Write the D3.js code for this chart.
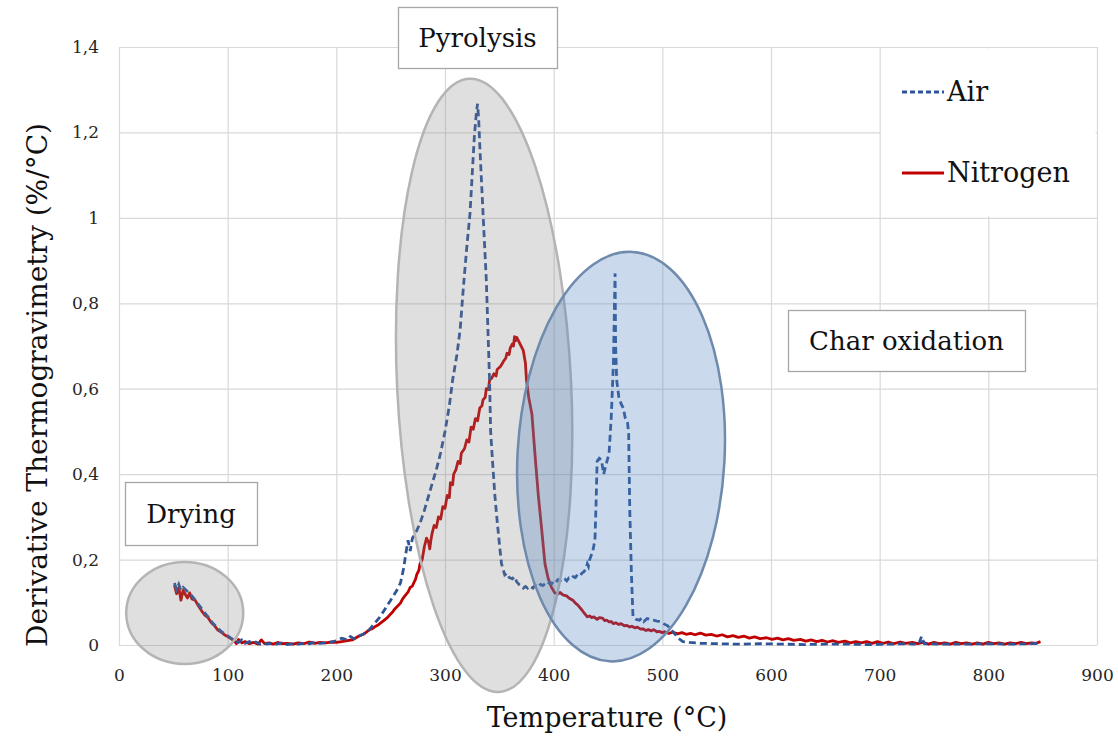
<!DOCTYPE html>
<html><head><meta charset="utf-8">
<script src="https://cdn.jsdelivr.net/npm/d3@7"></script>
<style>html,body{margin:0;padding:0;background:#fff;}svg{display:block;}</style>
</head><body>
<svg id="c" width="1118" height="737"></svg>
<script>
const xTicks = [0,100,200,300,400,500,600,700,800,900];
const yTicks = [0,0.2,0.4,0.6,0.8,1,1.2,1.4];
const yTickLabels = ["0","0,2","0,4","0,6","0,8","1","1,2","1,4"];
const seriesNames = ["Air","Nitrogen"];
const annotations = ["Drying","Pyrolysis","Char oxidation"];

// [temperature °C, DTG %/°C]
const airPoints = [[51,0.145],[53,0.13],[55,0.142],[57,0.128],[59,0.135],[61,0.13],[63,0.125],[66,0.118],[68,0.112],[70,0.105],[74,0.092],[78,0.078],[82,0.066],[86,0.052],[90,0.041],[94,0.032],[98,0.025],[102,0.018],[106,0.011],[110,0.006],[113,0.012],[116,0.004],[120,0.008],[123,0.003],[126,0.007],[130,0.002],[133,0.005],[136,0.002],[140,0.004],[145,0.002],[150,0.005],[155,0.001],[160,0.003],[165,0.002],[170,0.004],[175,0.003],[180,0.006],[185,0.004],[190,0.005],[195,0.007],[200,0.01],[205,0.016],[210,0.012],[213,0.02],[216,0.015],[220,0.02],[225,0.026],[230,0.035],[235,0.05],[240,0.065],[245,0.085],[250,0.105],[255,0.125],[259,0.145],[262,0.18],[264,0.215],[266,0.245],[268,0.22],[270,0.25],[274,0.268],[277,0.285],[281,0.315],[285,0.35],[289,0.385],[292,0.41],[296,0.45],[300,0.5],[304,0.56],[307,0.62],[311,0.68],[314,0.74],[317,0.84],[320,0.93],[323,1.01],[325,1.1],[327,1.19],[329,1.25],[330,1.267],[331,1.23],[332,1.17],[335,1.01],[338,0.855],[340,0.70],[341,0.62],[342,0.5],[344,0.42],[346,0.347],[348,0.29],[350,0.238],[352,0.19],[355,0.164],[357,0.168],[359,0.158],[362,0.155],[364,0.16],[366,0.148],[368,0.142],[370,0.138],[372,0.133],[374,0.137],[376,0.133],[378,0.138],[381,0.133],[383,0.14],[385,0.136],[388,0.142],[390,0.139],[392,0.143],[394,0.14],[396,0.146],[398,0.143],[400,0.15],[402,0.147],[404,0.153],[406,0.15],[408,0.156],[410,0.155],[412,0.15],[414,0.157],[416,0.155],[418,0.16],[420,0.158],[422,0.165],[424,0.162],[426,0.168],[428,0.172],[430,0.18],[431,0.19],[432,0.184],[433,0.199],[436,0.22],[438,0.246],[439,0.33],[440,0.43],[442,0.437],[444,0.433],[446,0.40],[448,0.42],[451,0.449],[453,0.535],[455,0.66],[456,0.80],[456.5,0.87],[457,0.70],[458,0.62],[460,0.58],[462,0.565],[464,0.555],[466,0.53],[468,0.52],[469,0.496],[470,0.32],[471.5,0.17],[473,0.066],[476,0.06],[479,0.058],[481,0.063],[483,0.055],[486,0.062],[489,0.06],[492,0.058],[495,0.056],[498,0.055],[501,0.05],[505,0.045],[510,0.03],[515,0.015],[519,0.008],[525,0.006],[535,0.004],[550,0.003],[570,0.002],[590,0.003],[610,0.002],[630,0.001],[650,0.002],[670,0.002],[690,0.001],[710,0.002],[725,0.003],[736,0.002],[738.5,0.02],[741,0.003],[760,0.002],[780,0.002],[800,0.003],[820,0.002],[840,0.003],[848,0.004]];

const nitrogenPoints = [[51,0.14],[53,0.12],[55,0.135],[57,0.105],[59,0.128],[61,0.118],[63,0.11],[65,0.122],[67,0.108],[70,0.105],[73,0.092],[76,0.08],[79,0.07],[82,0.064],[85,0.052],[88,0.045],[91,0.035],[94,0.03],[97,0.024],[100,0.02],[103,0.015],[106,0.01],[108,0.003],[110,0.013],[113,0.005],[116,0.008],[120,0.003],[124,0.006],[128,0.002],[131,0.012],[134,0.003],[138,0.005],[142,0.002],[146,0.006],[150,0.003],[155,0.004],[160,0.002],[165,0.005],[170,0.003],[175,0.007],[180,0.004],[185,0.006],[190,0.005],[195,0.007],[200,0.006],[205,0.008],[210,0.01],[215,0.012],[220,0.02],[225,0.025],[230,0.035],[233,0.038],[235,0.042],[238,0.046],[240,0.05],[243,0.056],[245,0.06],[247,0.064],[249,0.07],[252,0.078],[254,0.085],[256,0.09],[259,0.098],[261,0.108],[264,0.118],[266,0.124],[268,0.135],[270,0.138],[271,0.144],[273,0.155],[274,0.165],[276,0.175],[277,0.19],[279,0.2],[280,0.215],[281,0.23],[283,0.25],[284,0.245],[285,0.24],[286,0.225],[287,0.245],[288,0.26],[290,0.28],[292,0.275],[294,0.30],[296,0.295],[298,0.324],[300,0.32],[302,0.35],[304,0.345],[305,0.38],[307,0.375],[308,0.40],[310,0.41],[312,0.43],[314,0.425],[315,0.449],[318,0.46],[320,0.48],[322,0.475],[324,0.51],[326,0.505],[328,0.53],[330,0.525],[332,0.555],[334,0.56],[335,0.574],[337,0.58],[338,0.60],[340,0.598],[341,0.62],[343,0.625],[345,0.635],[347,0.63],[348,0.645],[351,0.652],[353,0.66],[354,0.665],[356,0.672],[357,0.683],[359,0.68],[360,0.695],[362,0.705],[363,0.70],[364,0.722],[365,0.712],[366,0.72],[368,0.71],[370,0.70],[372,0.69],[374,0.66],[375,0.62],[377,0.58],[380,0.54],[383,0.44],[386,0.347],[389,0.27],[392,0.19],[395,0.155],[398,0.135],[401,0.122],[404,0.12],[406,0.123],[408,0.118],[410,0.116],[412,0.115],[414,0.11],[416,0.107],[418,0.104],[420,0.098],[422,0.094],[424,0.088],[426,0.082],[428,0.075],[431,0.066],[433,0.068],[435,0.064],[437,0.066],[440,0.06],[442,0.064],[445,0.063],[447,0.057],[449,0.058],[451,0.054],[453,0.055],[455,0.05],[457,0.052],[460,0.048],[462,0.05],[465,0.045],[467,0.046],[470,0.042],[472,0.044],[475,0.04],[477,0.042],[480,0.037],[482,0.038],[485,0.034],[487,0.036],[490,0.033],[492,0.036],[495,0.031],[497,0.032],[500,0.029],[502,0.031],[506,0.027],[510,0.03],[514,0.026],[518,0.029],[522,0.025],[526,0.027],[530,0.024],[535,0.028],[540,0.023],[545,0.025],[550,0.021],[555,0.024],[560,0.019],[565,0.022],[570,0.018],[575,0.021],[580,0.016],[585,0.019],[590,0.015],[596,0.017],[601,0.013],[606,0.016],[611,0.012],[616,0.015],[621,0.011],[627,0.013],[632,0.009],[637,0.012],[642,0.008],[647,0.011],[652,0.007],[657,0.01],[662,0.006],[668,0.009],[673,0.005],[678,0.008],[683,0.005],[688,0.008],[693,0.004],[698,0.008],[703,0.004],[708,0.007],[713,0.003],[719,0.007],[724,0.004],[730,0.006],[735,0.003],[740,0.006],[745,0.002],[750,0.006],[755,0.003],[760,0.005],[765,0.002],[770,0.006],[775,0.003],[780,0.005],[785,0.002],[790,0.005],[795,0.002],[800,0.006],[805,0.003],[810,0.005],[815,0.002],[820,0.005],[825,0.003],[830,0.006],[835,0.003],[840,0.005],[844,0.004],[848,0.008]];

const FONT = "'Palatino Linotype','Book Antiqua',Palatino,'DejaVu Serif',serif";
const svg = d3.select("#c");
const m = {left:119, right:1097, top:47, bottom:645};
const x = d3.scaleLinear().domain([0,900]).range([m.left, m.right]);
const y = d3.scaleLinear().domain([0,1.4]).range([m.bottom, m.top]);

// gridlines
const grid = svg.append("g");
grid.selectAll("line.v").data(xTicks).join("line")
  .attr("x1", d=>x(d)+0.5).attr("x2", d=>x(d)+0.5).attr("y1", y(0)).attr("y2", y(1.4))
  .attr("stroke","#d9d9d9").attr("stroke-width",1.2);
grid.selectAll("line.h").data(yTicks).join("line")
  .attr("x1", x(0)).attr("x2", x(900)).attr("y1", d=>y(d)+0.5).attr("y2", d=>y(d)+0.5)
  .attr("stroke","#d9d9d9").attr("stroke-width",1.2);

// axes tick labels
const xAxis = svg.append("g").attr("transform",`translate(0,${y(0)})`)
  .call(d3.axisBottom(x).tickValues(xTicks).tickSize(0).tickPadding(24).tickFormat(d3.format("d")));
const yAxis = svg.append("g").attr("transform",`translate(${x(0)},0)`)
  .call(d3.axisLeft(y).tickValues(yTicks).tickSize(0).tickPadding(20).tickFormat((d,i)=>yTickLabels[i]));
[xAxis,yAxis].forEach(a=>{
  a.select(".domain").remove();
  a.selectAll("text").attr("font-family",FONT).attr("font-size",17).attr("fill","#262626");
});

// lines
const line = d3.line().x(d=>x(d[0])).y(d=>y(d[1]));
svg.append("path").datum(nitrogenPoints).attr("d",line).attr("fill","none")
  .attr("stroke","#c00000").attr("stroke-width",2.8).attr("stroke-linejoin","round");
svg.append("path").datum(airPoints).attr("d",line).attr("fill","none")
  .attr("stroke","#2f5597").attr("stroke-width",2.8).attr("stroke-dasharray","7,4");

// ellipses (semi transparent, on top)
function ell(cx,cy,rx,ry,rot,fill,op,stroke){
  svg.append("ellipse").attr("cx",cx).attr("cy",cy).attr("rx",rx).attr("ry",ry)
    .attr("transform",`rotate(${rot},${cx},${cy})`)
    .attr("fill",fill).attr("fill-opacity",op).attr("stroke",stroke).attr("stroke-width",2.5);
}
ell(x(60.5), y(0.075), 58.5, 51, 0, "#808080", 0.25, "#b4b4b4");
ell(x(336), y(0.608), 87, 307, -2.8, "#808080", 0.25, "#b4b4b4");
ell(x(462), y(0.441), 103.5, 205, 3.2, "#4f81bd", 0.3, "#6f8aad");

// legend box
svg.append("rect").attr("x",x(700)+1.5).attr("y",y(1.4)+1.5).attr("width",x(900)-x(700)-3).attr("height",y(1)-y(1.4)-3).attr("fill","#fff");
const lg = svg.append("g");
const legItems = [{n:seriesNames[0],c:"#2f5597",dash:"5,3",yy:92},{n:seriesNames[1],c:"#c00000",dash:null,yy:173}];
legItems.forEach(d=>{
  lg.append("line").attr("x1",902).attr("x2",944).attr("y1",d.yy).attr("y2",d.yy)
    .attr("stroke",d.c).attr("stroke-width",2.8).attr("stroke-dasharray",d.dash);
  lg.append("text").attr("x",947).attr("y",d.yy).attr("dy","0.35em").text(d.n)
    .attr("font-family",FONT).attr("font-size",27).attr("fill","#111");
});

// annotation boxes
const boxes = [
  {t:annotations[0], x0:125, x1:257, y0:482, y1:545},
  {t:annotations[1], x0:398, x1:557, y0:7, y1:68},
  {t:annotations[2], x0:788, x1:1025, y0:310, y1:371}
];
boxes.forEach(b=>{
  svg.append("rect").attr("x",b.x0+0.5).attr("y",b.y0+0.5).attr("width",b.x1-b.x0).attr("height",b.y1-b.y0)
    .attr("fill","#fff").attr("stroke","#a6a6a6").attr("stroke-width",1.3);
  svg.append("text").attr("x",(b.x0+b.x1)/2).attr("y",(b.y0+b.y1)/2).attr("dy","0.35em")
    .attr("text-anchor","middle").text(b.t).attr("font-family",FONT).attr("font-size",26).attr("fill","#111");
});

// axis titles
svg.append("text").attr("x",607).attr("y",718).attr("dy","0.35em").attr("text-anchor","middle")
  .text("Temperature (°C)").attr("font-family",FONT).attr("font-size",27).attr("fill","#111");
svg.append("text").attr("transform",`translate(37,385) rotate(-90)`).attr("dy","0.35em").attr("text-anchor","middle")
  .text("Derivative Thermogravimetry (%/°C)").attr("font-family",FONT).attr("font-size",28).attr("fill","#111");
</script>
</body></html>
